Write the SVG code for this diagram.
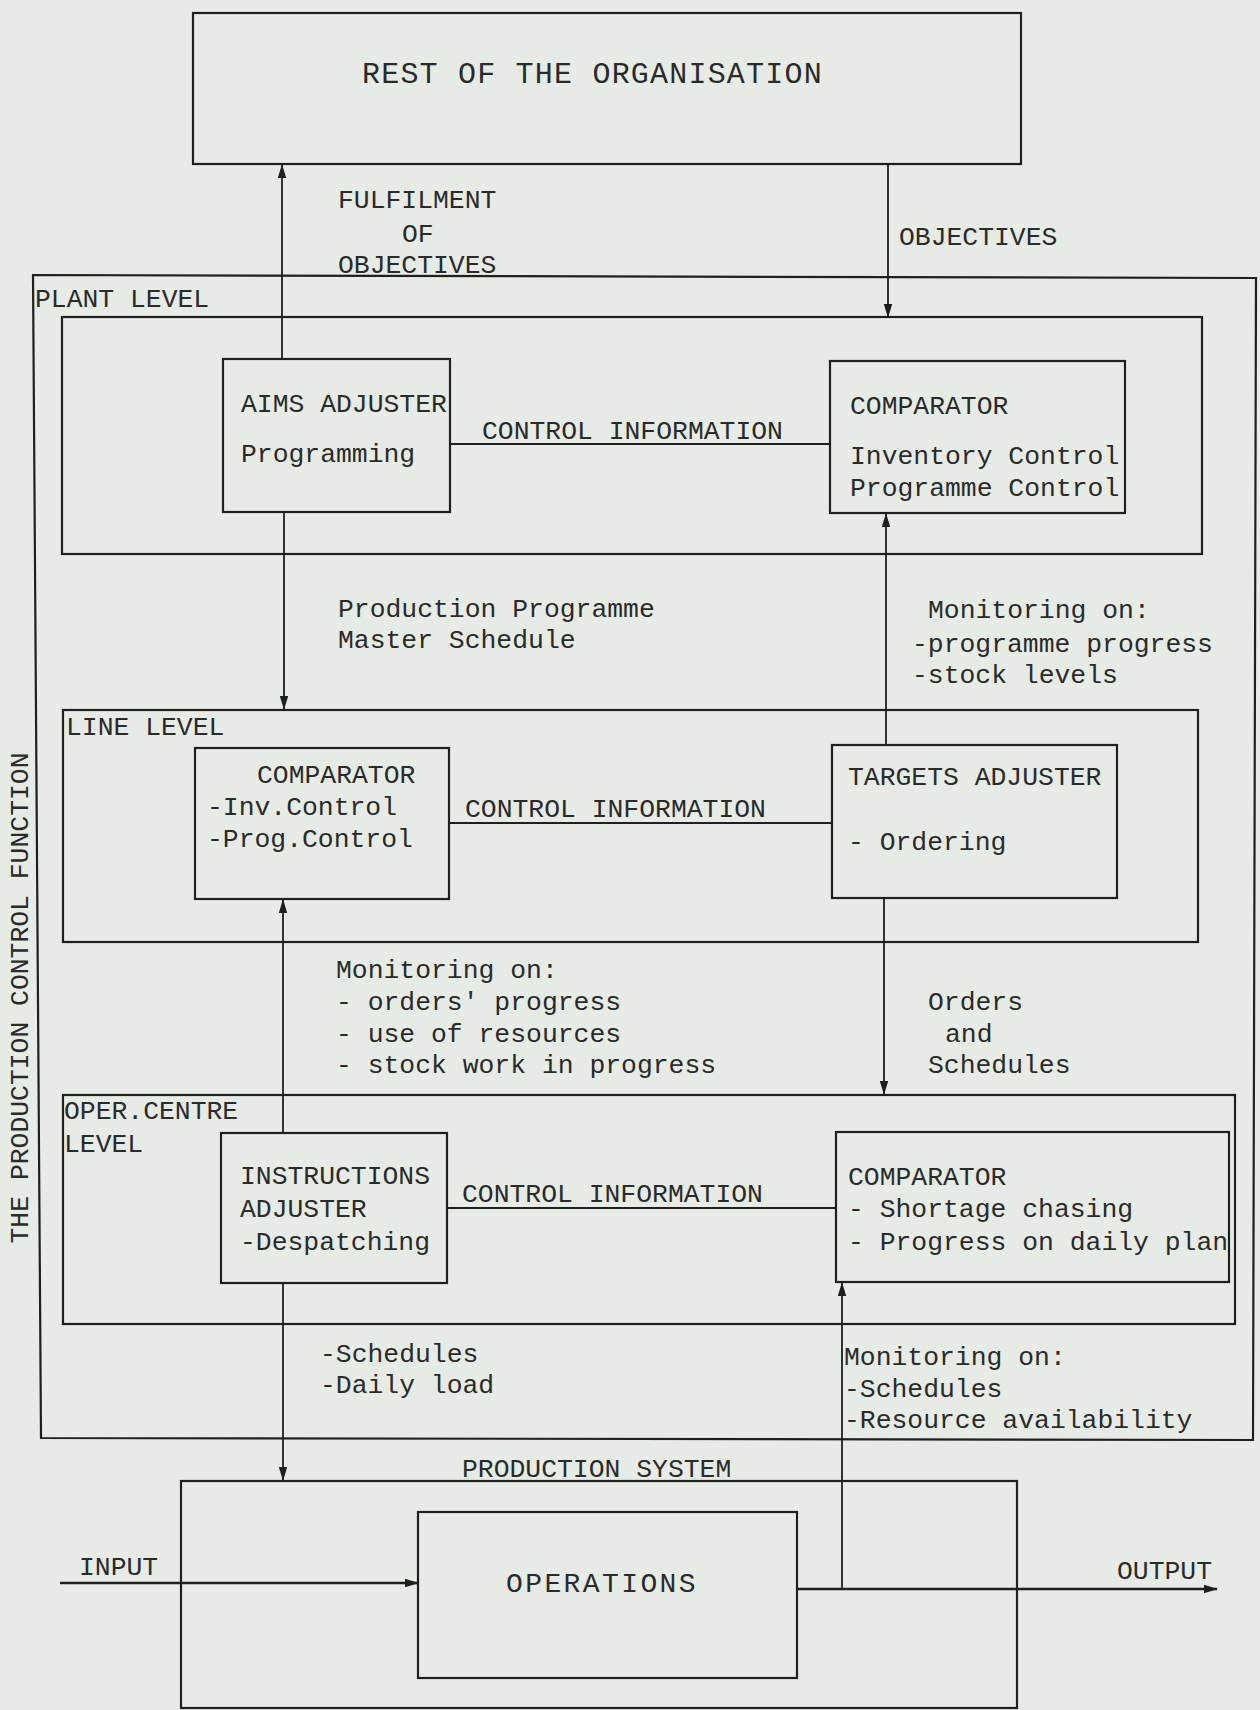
<svg xmlns="http://www.w3.org/2000/svg" width="1260" height="1710" viewBox="0 0 1260 1710">
<style>
  .bg { fill: #e7ebe5; }
  .box { fill: none; stroke: #1f1f1f; stroke-width: 2.2; }
  .ln { fill: none; stroke: #1f1f1f; stroke-width: 1.8; }
  .thick { fill: none; stroke: #1f1f1f; stroke-width: 2.6; }
  text { font-family: "Liberation Mono", "Courier New", monospace; font-size: 26.4px; fill: #2a2a2a; }
  .big { font-size: 30px; letter-spacing: 1.2px; }
  .ops { font-size: 28px; letter-spacing: 2.4px; }
</style>
<defs>
  <marker id="arr" markerUnits="userSpaceOnUse" markerWidth="14" markerHeight="10" refX="13" refY="5" orient="auto">
    <path d="M0,0.8 L14,5 L0,9.2 z" fill="#1f1f1f"/>
  </marker>
</defs>
<rect class="bg" x="0" y="0" width="1260" height="1710"/>

<g id="rest-of-organisation">
  <rect class="box" x="193" y="13" width="828" height="151"/>
  <text class="big" x="362" y="83">REST OF THE ORGANISATION</text>
</g>

<g id="production-control-function">
  <path class="box" d="M33,275 L1256,278 L1253,1440 L41,1438 Z"/>
  <text transform="translate(28,998) rotate(-90)" text-anchor="middle">THE PRODUCTION CONTROL FUNCTION</text>
</g>

<g id="plant-level">
  <rect class="box" x="62" y="317" width="1140" height="237"/>
  <text x="35" y="307">PLANT LEVEL</text>
</g>
<g id="aims-adjuster">
  <rect class="box" x="223" y="359" width="227" height="153"/>
  <text x="241" y="412">AIMS ADJUSTER</text>
  <text x="241" y="462">Programming</text>
</g>
<g id="plant-comparator">
  <rect class="box" x="830" y="361" width="295" height="152"/>
  <text x="850" y="414">COMPARATOR</text>
  <text x="850" y="464">Inventory Control</text>
  <text x="850" y="496">Programme Control</text>
</g>

<g id="line-level">
  <rect class="box" x="63" y="710" width="1135" height="232"/>
  <text x="66" y="735">LINE LEVEL</text>
</g>
<g id="line-comparator">
  <rect class="box" x="195" y="748" width="254" height="151"/>
  <text x="257" y="783">COMPARATOR</text>
  <text x="207" y="815">-Inv.Control</text>
  <text x="207" y="847">-Prog.Control</text>
</g>
<g id="targets-adjuster">
  <rect class="box" x="832" y="745" width="285" height="153"/>
  <text x="848" y="785">TARGETS ADJUSTER</text>
  <text x="848" y="850">- Ordering</text>
</g>

<g id="oper-centre-level">
  <rect class="box" x="63" y="1095" width="1172" height="229"/>
  <text x="64" y="1119">OPER.CENTRE</text>
  <text x="64" y="1152">LEVEL</text>
</g>
<g id="instructions-adjuster">
  <rect class="box" x="221" y="1133" width="226" height="150"/>
  <text x="240" y="1184">INSTRUCTIONS</text>
  <text x="240" y="1217">ADJUSTER</text>
  <text x="240" y="1250">-Despatching</text>
</g>
<g id="oper-comparator">
  <rect class="box" x="836" y="1132" width="393" height="150"/>
  <text x="848" y="1185">COMPARATOR</text>
  <text x="848" y="1217">- Shortage chasing</text>
  <text x="848" y="1250">- Progress on daily plan</text>
</g>

<g id="production-system">
  <rect class="box" x="181" y="1481" width="836" height="227"/>
  <text x="462" y="1477">PRODUCTION SYSTEM</text>
</g>
<g id="operations">
  <rect class="box" x="418" y="1512" width="379" height="166"/>
  <text class="ops" x="506" y="1592">OPERATIONS</text>
</g>

<g id="connectors">
  <line class="ln" x1="282" y1="359" x2="282" y2="165" marker-end="url(#arr)"/>
  <line class="ln" x1="888" y1="164" x2="888" y2="317" marker-end="url(#arr)"/>
  <line class="ln" x1="450" y1="444" x2="830" y2="444"/>
  <line class="ln" x1="284" y1="512" x2="284" y2="709" marker-end="url(#arr)"/>
  <line class="ln" x1="886" y1="745" x2="886" y2="514" marker-end="url(#arr)"/>
  <line class="ln" x1="449" y1="823" x2="832" y2="823"/>
  <line class="ln" x1="283" y1="1133" x2="283" y2="900" marker-end="url(#arr)"/>
  <line class="ln" x1="884" y1="898" x2="884" y2="1094" marker-end="url(#arr)"/>
  <line class="ln" x1="447" y1="1208" x2="836" y2="1208"/>
  <line class="ln" x1="283" y1="1283" x2="283" y2="1480" marker-end="url(#arr)"/>
  <line class="ln" x1="842" y1="1589" x2="842" y2="1283" marker-end="url(#arr)"/>
  <line class="thick" x1="60" y1="1583" x2="418" y2="1583" marker-end="url(#arr)"/>
  <line class="thick" x1="797" y1="1589" x2="1217" y2="1589" marker-end="url(#arr)"/>

  <text x="338" y="208">FULFILMENT</text>
  <text x="402" y="242">OF</text>
  <text x="338" y="273">OBJECTIVES</text>
  <text x="899" y="245">OBJECTIVES</text>
  <text x="482" y="439">CONTROL INFORMATION</text>
  <text x="338" y="617">Production Programme</text>
  <text x="338" y="648">Master Schedule</text>
  <text x="928" y="618">Monitoring on:</text>
  <text x="912" y="652">-programme progress</text>
  <text x="912" y="683">-stock levels</text>
  <text x="465" y="817">CONTROL INFORMATION</text>
  <text x="336" y="978">Monitoring on:</text>
  <text x="336" y="1010">- orders' progress</text>
  <text x="336" y="1042">- use of resources</text>
  <text x="336" y="1073">- stock work in progress</text>
  <text x="928" y="1010">Orders</text>
  <text x="945" y="1042">and</text>
  <text x="928" y="1073">Schedules</text>
  <text x="462" y="1202">CONTROL INFORMATION</text>
  <text x="320" y="1362">-Schedules</text>
  <text x="320" y="1393">-Daily load</text>
  <text x="844" y="1365">Monitoring on:</text>
  <text x="844" y="1397">-Schedules</text>
  <text x="844" y="1428">-Resource availability</text>
  <text x="79" y="1575">INPUT</text>
  <text x="1117" y="1579">OUTPUT</text>
</g>
</svg>
